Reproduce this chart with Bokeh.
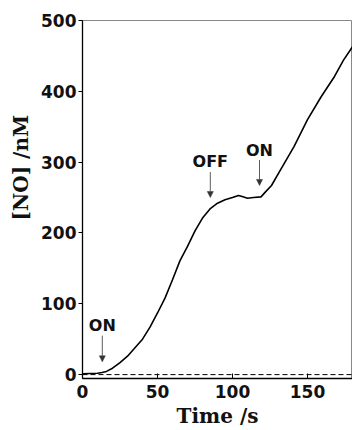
from bokeh.plotting import figure
from bokeh.models import Range1d, Span, Arrow, NormalHead, Label, FixedTicker, Title
from bokeh.embed import file_html
from bokeh.resources import INLINE

# Data
time_s = [0, 5, 10, 13, 16, 20, 25, 30, 35, 40, 45, 50, 55, 60, 65, 70, 75, 80,
          85, 90, 95, 100, 104, 107, 110, 114, 119, 122, 126, 132, 141, 150, 159,
          168, 174, 180]
no_nM = [1, 1.5, 2, 3, 4.5, 9, 17, 26, 38, 50, 67, 87, 108, 134, 161, 181, 203,
         221, 234, 242, 247, 250, 253, 251, 249, 250, 251, 258, 267, 289, 322,
         360, 392, 421, 444, 463]

x_ticks = [0, 50, 100, 150]
y_ticks = [0, 100, 200, 300, 400, 500]

# annotations: (label, x, text_y, arrow_start_y, arrow_end_y)
ann_labels = ["ON", "OFF", "ON"]
ann_x = [13.2, 85.2, 118.0]
ann_text_y = [70, 301, 317]
ann_arrow_y0 = [55, 286, 303]
ann_arrow_y1 = [18, 250, 267]

TICK_FONT = "DejaVu Sans"
LABEL_FONT = "DejaVu Serif"

p = figure(width=352, height=430, x_range=Range1d(0, 180), y_range=Range1d(-5.5, 500),
           output_backend="svg", toolbar_location=None,
           min_border_left=81, min_border_right=0, min_border_top=20, min_border_bottom=50)

p.xgrid.visible = False
p.ygrid.visible = False
p.outline_line_color = "#888888"
p.outline_line_width = 1
p.background_fill_color = "white"
p.border_fill_color = "white"

# axes
p.xaxis.ticker = FixedTicker(ticks=x_ticks)
p.yaxis.ticker = FixedTicker(ticks=y_ticks)
for ax in (p.xaxis, p.yaxis):
    ax.minor_tick_line_color = None
    ax.axis_line_color = "black"
    ax.axis_line_width = 1.3
    ax.major_tick_line_color = "black"
    ax.major_tick_line_width = 1
    ax.major_label_text_font = TICK_FONT
    ax.major_label_text_font_style = "bold"
    ax.major_label_text_font_size = "17px"
    ax.major_label_text_color = "#111111"

p.xaxis.major_tick_in = 5
p.xaxis.major_tick_out = 0
p.xaxis.major_label_standoff = 6
p.yaxis.major_tick_in = 0
p.yaxis.major_tick_out = 4
p.yaxis.major_label_standoff = 2

p.xaxis.axis_label = "Time /s"
p.xaxis.axis_label_standoff = 3
p.xaxis.axis_label_text_font = LABEL_FONT
p.xaxis.axis_label_text_font_style = "bold"
p.xaxis.axis_label_text_font_size = "20px"
p.xaxis.axis_label_text_color = "#111111"

# y axis title, placed higher than centre as in the reference
p.add_layout(Title(text="[NO] /nM", align="left", offset=158, standoff=12,
                   text_font=LABEL_FONT, text_font_style="bold",
                   text_font_size="20px", text_color="#111111"), "left")

# baseline dashed
p.add_layout(Span(location=0, dimension="width", line_color="black",
                  line_width=1, line_dash="5 3"))

# the trace
p.line(time_s, no_nM, line_color="black", line_width=1.6)

# annotations
for lab, x, ty, y0, y1 in zip(ann_labels, ann_x, ann_text_y, ann_arrow_y0, ann_arrow_y1):
    p.add_layout(Label(x=x, y=ty, text=lab, text_align="center", text_baseline="middle",
                       text_font=TICK_FONT, text_font_style="bold",
                       text_font_size="16px", text_color="#111111"))
    p.add_layout(Arrow(x_start=x, y_start=y0, x_end=x, y_end=y1,
                       line_color="#333333", line_width=0.8,
                       end=NormalHead(size=6, line_color="#333333",
                                      fill_color="#333333", line_width=0.5)))

open("out.html", "w").write(file_html(p, INLINE))
